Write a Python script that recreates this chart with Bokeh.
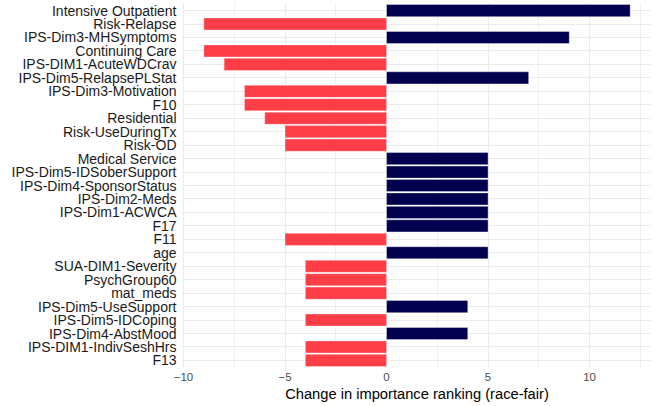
from bokeh.plotting import figure
from bokeh.models import ColumnDataSource, Range1d, FixedTicker
from bokeh.embed import file_html
from bokeh.resources import INLINE

features = [
    "Intensive Outpatient", "Risk-Relapse", "IPS-Dim3-MHSymptoms", "Continuing Care",
    "IPS-DIM1-AcuteWDCrav", "IPS-Dim5-RelapsePLStat", "IPS-Dim3-Motivation", "F10",
    "Residential", "Risk-UseDuringTx", "Risk-OD", "Medical Service",
    "IPS-Dim5-IDSoberSupport", "IPS-Dim4-SponsorStatus", "IPS-Dim2-Meds", "IPS-Dim1-ACWCA",
    "F17", "F11", "age", "SUA-DIM1-Severity", "PsychGroup60", "mat_meds",
    "IPS-Dim5-UseSupport", "IPS-Dim5-IDCoping", "IPS-Dim4-AbstMood",
    "IPS-DIM1-IndivSeshHrs", "F13",
]
change = [12, -9, 9, -9, -8, 7, -7, -7, -6, -5, -5, 5, 5, 5, 5, 5, 5, -5, 5,
          -4, -4, -4, 4, -4, 4, -4, -4]
x_ticks = [-10, -5, 0, 5, 10]

POS_COLOR = "#00004F"
NEG_COLOR = "#FF3D46"

n = len(features)
ypos = [n - 1 - i for i in range(n)]
colors = [POS_COLOR if v > 0 else NEG_COLOR for v in change]
src = ColumnDataSource(dict(y=ypos, v=change, c=colors, zero=[0] * n))

xmin = min(min(change), 0)
xmax = max(max(change), 0)
pad = 0.05 * (xmax - xmin)

p = figure(width=651, height=404, output_backend="svg", toolbar_location=None,
           x_range=Range1d(xmin - pad, xmax + pad),
           y_range=Range1d(-0.6, n - 1 + 0.6),
           min_border_left=182, min_border_right=0, min_border_top=2,
           min_border_bottom=30)
p.outline_line_color = None
p.background_fill_color = "white"

p.hbar(y="y", left="zero", right="v", height=0.9, fill_color="c",
       line_color="white", line_alpha=0.45, line_width=0.8, source=src)

# x axis
p.xaxis.ticker = FixedTicker(ticks=x_ticks, minor_ticks=[-7.5, -2.5, 2.5, 7.5, 12.5])
p.xaxis.axis_line_color = None
p.xaxis.major_tick_line_color = None
p.xaxis.minor_tick_line_color = None
p.xaxis.major_tick_out = 0
p.xaxis.minor_tick_out = 0
p.xaxis.major_label_text_font = "Liberation Sans"
p.xaxis.major_label_text_font_size = "11.5px"
p.xaxis.major_label_text_color = "#4D4D4D"
p.xaxis.major_label_standoff = 4
p.xaxis.axis_label = "Change in importance ranking (race-fair)"
p.xaxis.axis_label_text_font = "Liberation Sans"
p.xaxis.axis_label_text_font_size = "14.7px"
p.xaxis.axis_label_text_font_style = "normal"
p.xaxis.axis_label_text_color = "#000000"
p.xaxis.axis_label_standoff = 2

# y axis
p.yaxis.ticker = FixedTicker(ticks=ypos)
p.yaxis.major_label_overrides = {y: f for y, f in zip(ypos, features)}
p.yaxis.axis_line_color = None
p.yaxis.major_tick_line_color = None
p.yaxis.minor_tick_line_color = None
p.yaxis.major_tick_out = 0
p.yaxis.minor_tick_out = 0
p.yaxis.major_label_text_font = "Liberation Sans"
p.yaxis.major_label_text_font_size = "14px"
p.yaxis.major_label_text_color = "#1A1A1A"
p.yaxis.major_label_standoff = 6

# grid
p.xgrid.grid_line_color = "#EBEBEB"
p.xgrid.grid_line_width = 1
p.xgrid.minor_grid_line_color = "#EBEBEB"
p.xgrid.minor_grid_line_width = 0.7
p.ygrid.grid_line_color = "#EBEBEB"
p.ygrid.grid_line_width = 1
p.xgrid.level = "underlay"
p.ygrid.level = "underlay"

open("out.html", "w").write(file_html(p, INLINE))
